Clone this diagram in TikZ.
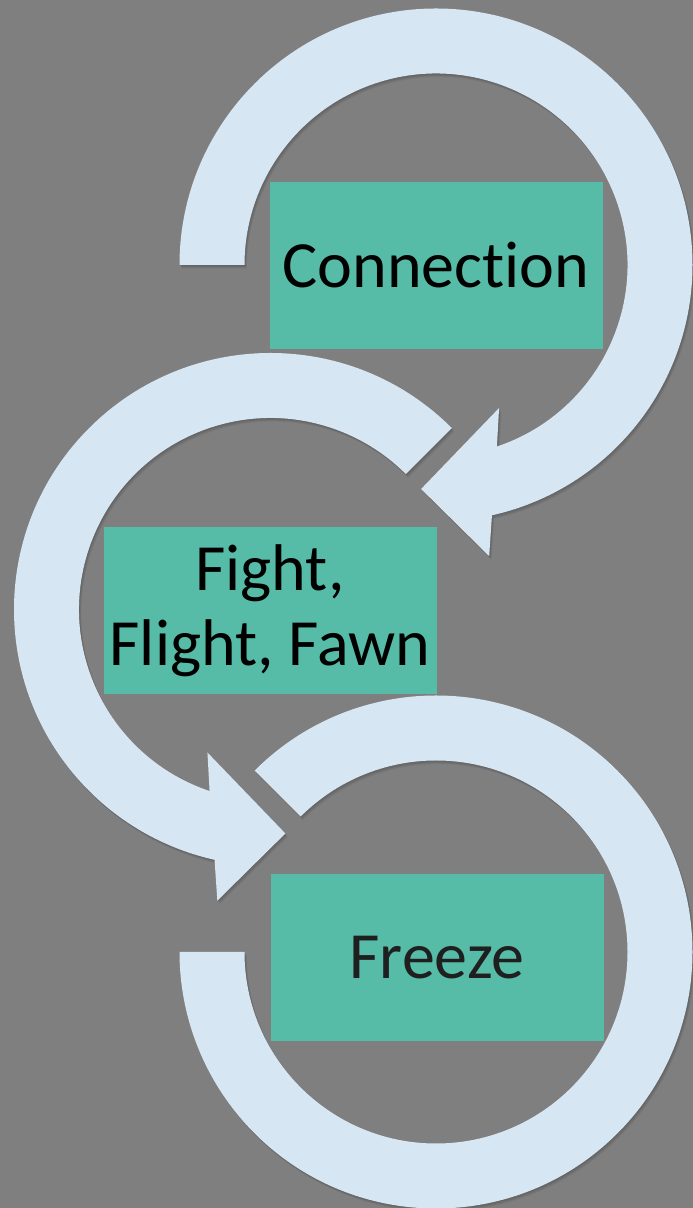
\documentclass[tikz,border=0pt]{standalone}
\usepackage{fontspec}
\setmainfont{Carlito}[Ligatures={NoCommon}]
\definecolor{bggray}{HTML}{7F7F7F}
\definecolor{ringblue}{HTML}{D6E6F3}
\definecolor{boxteal}{HTML}{56BBA7}

% circular arrow bands, drawn around the origin of the current scope
\newcommand\bandOne[1]{\fill[#1] (180:256.5pt) arc[start angle=180,end angle=-77.4,radius=256.5pt]
  -- (-79.65:296pt) -- (-93.8:224.5pt) -- (-66.2:156.3pt) -- (-71.45:191.5pt)
  arc[start angle=-71.45,end angle=180,radius=191.5pt] -- cycle;}
\newcommand\bandTwo[1]{\fill[#1] (45:256.5pt) arc[start angle=45,end angle=257.4,radius=256.5pt]
  -- (259.65:296pt) -- (273.8:224.5pt) -- (246.2:156.3pt) -- (251.45:191.5pt)
  arc[start angle=251.45,end angle=45,radius=191.5pt] -- cycle;}
\newcommand\bandThree[1]{\fill[#1] (135:256.5pt) arc[start angle=135,end angle=-180,radius=256.5pt]
  -- (180:191.5pt) arc[start angle=-180,end angle=135,radius=191.5pt] -- cycle;}
% soft drop shadow followed by the band itself
\newcommand\shadedBand[1]{%
  \foreach \k in {1,...,4}{\begin{scope}[shift={(0.6*\k,-0.9*\k)}]#1{bandshade}\end{scope}}%
  #1{band}}

\begin{document}
\begin{tikzpicture}[x=1pt,y=1pt,
  band/.style={fill=ringblue},
  bandshade/.style={fill=black,fill opacity=0.055},
  stepbox/.style={fill=boxteal,inner sep=0pt,minimum width=333pt,minimum height=167pt,
    align=center,font=\fontsize{66}{75}\selectfont}]
  \fill[bggray] (0,0) rectangle (693,1208);
  \useasboundingbox (0,0) rectangle (693,1208);

  \begin{scope}[shift={(436,943)}]\shadedBand\bandOne\end{scope}
  \begin{scope}[shift={(270.5,598.5)}]\shadedBand\bandTwo\end{scope}
  \begin{scope}[shift={(436,256)}]\shadedBand\bandThree\end{scope}

  \node[stepbox,text=black] (connection) at (436,942.5) {Connection};
  \node[stepbox,text=black] (fight) at (270,597.7) {Fight,\\Flight, Fawn};
  \node[stepbox,text=black!88] (freeze) at (437,250) {Freeze};
\end{tikzpicture}
\end{document}
